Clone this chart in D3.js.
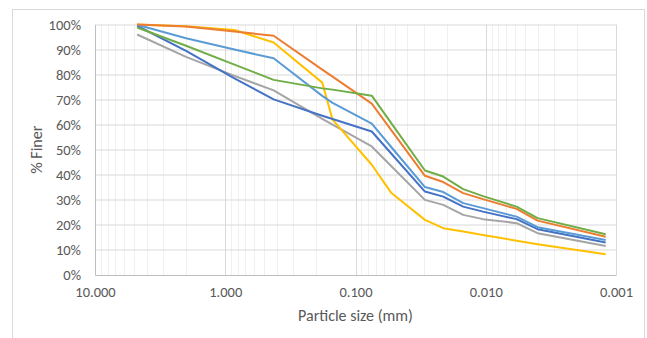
<!DOCTYPE html>
<html>
<head>
<meta charset="utf-8">
<script src="https://cdn.jsdelivr.net/npm/d3@7"></script>
<style>
  body { margin: 0; background: #fff; }
  text { font-family: Calibri, Carlito, "Open Sans", sans-serif; fill: #595959; }
</style>
</head>
<body>
<script>
// particle sizes (mm) for sieve + hydrometer readings
const sizes = [4.75, 2.0, 0.85, 0.425, 0.18, 0.15, 0.075, 0.053, 0.0293, 0.0212, 0.0149, 0.0105, 0.0058, 0.0040, 0.0012];

// % finer for each sample
const sampleOrange = [100, 99.2, 97.2, 95.5, 82.0, 79.2, 68.4, 57.7, 39.6, 37.1, 32.7, 30.3, 26.4, 21.7, 15.3];
const sampleGreen  = [98.8, 91.5, 84, 77.9, 74.5, 74, 71.6, 60.5, 41.7, 39.3, 34.3, 31.5, 27.3, 22.7, 16.3];
const sampleLtBlue = [99.9, 94.5, 90, 86.5, 71.5, 68.7, 60.4, 51.0, 35.1, 33.1, 28.7, 26.7, 23.3, 19.1, 14.0];
const sampleBlue   = [99.5, 89.5, 78.5, 70.1, 63.6, 62.3, 57.3, 48.4, 33.3, 31.3, 27.3, 25.3, 22.3, 18.3, 13.0];
const sampleGray   = [96, 87.1, 79.5, 73.7, 62.3, 60.0, 51.3, 43.4, 30, 28, 24, 22.3, 20.7, 16.7, 11.6];
const sampleYellow = [100, 99.3, 97.8, 92.8, 76.8, 62, 44, 32.7, 22, 18.7, 17.4, 16, 13.7, 12.3, 8.3];

const series = [
  { values: sampleGray,   color: "#A5A5A5" },
  { values: sampleYellow, color: "#FFC000" },
  { values: sampleBlue,   color: "#4472C4" },
  { values: sampleLtBlue, color: "#5B9BD5" },
  { values: sampleOrange, color: "#ED7D31" },
  { values: sampleGreen,  color: "#70AD47" }
];

const yTicks = d3.range(0, 101, 10);
const xTicks = [10, 1, 0.1, 0.01, 0.001];

const W = 647, H = 338;
const margin = { top: 24.5, right: 31, bottom: 63, left: 95 };
const width = W - margin.left - margin.right;
const height = H - margin.top - margin.bottom;

const svg = d3.select("body").append("svg")
    .attr("width", W)
    .attr("height", H);

svg.append("rect")
    .attr("x", 12.5).attr("y", 9.5)
    .attr("width", 632).attr("height", 345)
    .attr("fill", "none")
    .attr("stroke", "#d9d9d9");

const g = svg.append("g")
    .attr("transform", "translate(" + margin.left + "," + margin.top + ")");

const x = d3.scaleLog()
    .domain([10, 0.001])
    .range([0, width]);

const y = d3.scaleLinear()
    .domain([0, 100])
    .range([height, 0]);

// minor log gridlines
const minor = [];
[1, 0.1, 0.01, 0.001].forEach(function(dec) {
    for (let k = 2; k <= 9; k++) minor.push(dec * k);
});
g.append("g")
    .selectAll("line")
    .data(minor)
  .enter().append("line")
    .attr("x1", d => Math.round(x(d)) + 0.5)
    .attr("x2", d => Math.round(x(d)) + 0.5)
    .attr("y1", 0)
    .attr("y2", height)
    .attr("stroke", "#f0f0f0");

// major gridlines
g.append("g")
    .selectAll("line")
    .data(xTicks.slice(1))
  .enter().append("line")
    .attr("x1", d => Math.round(x(d)) + 0.5)
    .attr("x2", d => Math.round(x(d)) + 0.5)
    .attr("y1", 0)
    .attr("y2", height)
    .attr("stroke", "#d9d9d9");

g.append("g")
    .selectAll("line")
    .data(yTicks.slice(1))
  .enter().append("line")
    .attr("x1", 0)
    .attr("x2", width)
    .attr("y1", d => Math.round(y(d)) + 0.5)
    .attr("y2", d => Math.round(y(d)) + 0.5)
    .attr("stroke", "#d9d9d9");

// axes
const xAxis = d3.axisBottom(x)
    .tickValues(xTicks)
    .tickFormat(d3.format(".3f"))
    .tickSize(0)
    .tickPadding(12);

const yAxis = d3.axisLeft(y)
    .tickValues(yTicks)
    .tickFormat(d => d + "%")
    .tickSize(0)
    .tickPadding(14);

g.append("g")
    .attr("transform", "translate(0," + height + ")")
    .call(xAxis)
    .call(a => a.select(".domain").attr("stroke", "#bfbfbf"))
    .selectAll("text")
    .style("font-size", "14.5px")
    .attr("fill", "#595959");

g.append("g")
    .call(yAxis)
    .call(a => a.select(".domain").attr("stroke", "#bfbfbf"))
    .selectAll("text")
    .style("font-size", "14.5px")
    .attr("fill", "#595959");

// lines
const line = d3.line()
    .x((d, i) => x(sizes[i]))
    .y(d => y(d));

g.append("g")
    .selectAll("path")
    .data(series)
  .enter().append("path")
    .attr("d", d => line(d.values))
    .attr("fill", "none")
    .attr("stroke", d => d.color)
    .attr("stroke-width", 2)
    .attr("stroke-linejoin", "round");

// axis titles
svg.append("text")
    .attr("x", margin.left + width / 2)
    .attr("y", 321)
    .attr("text-anchor", "middle")
    .style("font-size", "16px")
    .text("Particle size (mm)");

svg.append("text")
    .attr("transform", "translate(42," + (margin.top + height / 2) + ") rotate(-90)")
    .attr("text-anchor", "middle")
    .style("font-size", "16px")
    .text("% Finer");
</script>
</body>
</html>
